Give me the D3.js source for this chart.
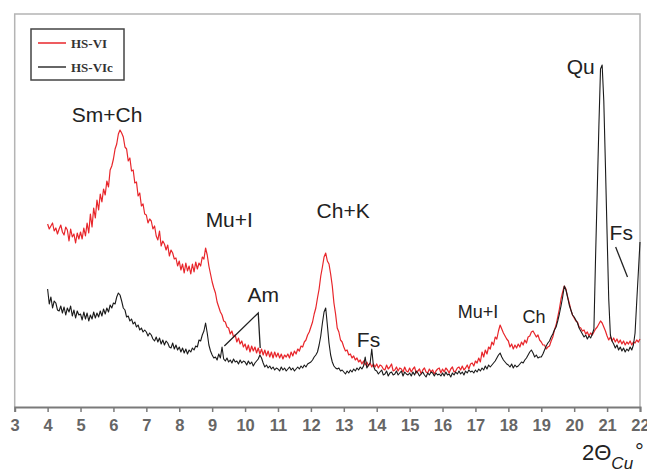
<!DOCTYPE html>
<html>
<head>
<meta charset="utf-8">
<script src="https://d3js.org/d3.v7.min.js"></script>
<style>
	body { margin: 0; background: #fff; }
	svg { display: block; }
	.peak-label { font-family: "Liberation Sans", Arial, sans-serif; fill: #222; }
	.tick text { font-family: "Liberation Sans Narrow", "Arial Narrow", "Liberation Sans", Arial, sans-serif; font-weight: bold; fill: #666; }
</style>
</head>
<body>
<div id="chartDiv"></div>
<script>
; (function () {

	var width = 647;
	var height = 470;
	var plot = { left: 14.7, top: 14, right: 640, bottom: 407 };

	// 2theta scan, 4 to 22 deg, 0.05 deg per point
	var thetaStart = 4;
	var thetaStep = 0.05;
	var xTicks = [3, 4, 5, 6, 7, 8, 9, 10, 11, 12, 13, 14, 15, 16, 17, 18, 19, 20, 21, 22];

	var seriesNames = ["HS-VI", "HS-VIc"];

	// HS-VI (red), one row per degree
	var hsVI = [
		183, 178, 181, 184, 176, 179, 173, 178, 182, 175, 172, 180, 177, 166, 178, 170, 173, 164, 174, 168,
		175, 168, 179, 171, 184, 174, 193, 180, 199, 189, 207, 197, 213, 205, 218, 212, 226, 220, 237, 241,
		248, 258, 263, 273, 277, 274, 270, 260, 258, 246, 249, 236, 237, 224, 225, 211, 214, 201, 203, 193,
		192, 184, 188, 186, 178, 181, 171, 167, 176, 161, 166, 163, 157, 162, 151, 157, 154, 148, 149, 141,
		146, 137, 143, 134, 144, 136, 141, 133, 143, 135, 145, 138, 144, 141, 150, 148, 159, 152, 141, 133,
		125, 119, 114, 105, 100, 95, 92, 86, 85, 80, 79, 73, 76, 70, 72, 65, 69, 63, 66, 60,
		63, 57, 62, 55, 61, 56, 60, 54, 59, 53, 58, 52, 57, 51, 56, 50, 55, 49, 55, 50,
		54, 49, 53, 48, 52, 50, 53, 49, 55, 51, 56, 53, 58, 56, 61, 60, 65, 67, 72, 75,
		80, 85, 93, 99, 109, 118, 131, 140, 150, 154, 146, 143, 133, 121, 104, 93, 79, 75, 67, 65,
		60, 56, 57, 52, 53, 49, 51, 47, 49, 45, 47, 43, 46, 42, 45, 41, 44, 40, 43, 40,
		43, 39, 42, 41, 38, 37, 42, 38, 40, 43, 36, 37, 40, 36, 39, 38, 35, 40, 36, 35,
		39, 35, 38, 40, 34, 36, 38, 33, 37, 39, 35, 34, 38, 35, 37, 33, 36, 38, 39, 34,
		38, 35, 39, 37, 34, 38, 40, 35, 36, 39, 40, 37, 41, 37, 39, 42, 38, 43, 44, 41,
		46, 44, 49, 45, 55, 50, 57, 53, 60, 58, 65, 62, 70, 68, 76, 82, 78, 74, 71, 68,
		66, 60, 63, 58, 62, 59, 63, 60, 65, 62, 67, 64, 70, 71, 75, 76, 73, 70, 72, 67,
		65, 62, 62, 58, 60, 61, 66, 70, 77, 82, 90, 98, 108, 115, 121, 118, 110, 104, 97, 92,
		89, 86, 85, 80, 79, 76, 77, 73, 75, 71, 74, 72, 75, 78, 80, 83, 86, 84, 80, 76,
		71, 67, 70, 66, 69, 65, 68, 64, 67, 63, 66, 62, 65, 63, 66, 62, 65, 64, 67, 65,
		68
	];

	// HS-VIc (black)
	var hsVIc = [
		118, 103, 110, 99, 106, 104, 97, 96, 101, 94, 100, 92, 99, 95, 101, 91, 97, 89, 96, 92,
		93, 87, 95, 88, 94, 86, 92, 88, 95, 89, 94, 90, 96, 91, 98, 93, 99, 95, 102, 99,
		104, 103, 110, 114, 112, 106, 99, 97, 90, 91, 86, 88, 83, 85, 80, 82, 77, 79, 75, 77,
		75, 71, 74, 72, 68, 66, 70, 65, 69, 63, 67, 62, 66, 64, 60, 59, 64, 58, 62, 57,
		60, 55, 59, 54, 58, 53, 57, 55, 59, 57, 61, 60, 67, 66, 72, 76, 84, 74, 62, 56,
		52, 49, 50, 47, 53, 49, 60, 48, 46, 49, 45, 47, 44, 48, 45, 46, 43, 47, 44, 46,
		45, 42, 46, 43, 45, 41, 44, 46, 48, 52, 49, 44, 40, 42, 39, 41, 38, 40, 37, 39,
		38, 36, 40, 37, 39, 36, 38, 40, 37, 39, 36, 38, 40, 38, 41, 39, 42, 40, 43, 44,
		45, 47, 50, 52, 55, 62, 71, 84, 95, 99, 82, 64, 52, 45, 41, 39, 38, 39, 36, 37,
		35, 33, 36, 34, 37, 35, 38, 36, 39, 37, 40, 38, 41, 50, 39, 42, 44, 58, 41, 37,
		36, 33, 35, 37, 32, 33, 36, 31, 34, 35, 32, 33, 36, 32, 34, 36, 31, 35, 33, 32,
		34, 31, 35, 32, 36, 34, 31, 33, 35, 32, 30, 34, 32, 35, 34, 31, 34, 32, 33, 31,
		34, 31, 35, 32, 33, 30, 34, 32, 35, 33, 36, 33, 35, 32, 36, 34, 37, 35, 36, 34,
		37, 35, 38, 36, 39, 37, 41, 38, 42, 40, 42, 44, 46, 49, 52, 54, 50, 47, 45, 43,
		42, 40, 43, 39, 42, 40, 41, 43, 45, 44, 47, 49, 52, 55, 57, 54, 50, 52, 49, 50,
		50, 53, 57, 61, 64, 66, 70, 73, 77, 80, 86, 93, 101, 110, 121, 117, 110, 102, 97, 92,
		90, 87, 84, 79, 76, 73, 70, 72, 68, 71, 69, 73, 78, 150, 215, 280, 338, 342, 306, 241,
		173, 108, 72, 66, 63, 59, 62, 57, 60, 56, 59, 55, 58, 56, 60, 57, 62, 74, 105, 135,
		165
	];

	// peak labels (2theta, intensity at baseline)
	var peakLabels = ["Sm+Ch", "Mu+I", "Ch+K", "Am", "Fs", "Mu+I", "Ch", "Qu", "Fs"];
	var peakLabelTheta = [5.81, 9.52, 12.98, 10.55, 13.75, 17.08, 18.78, 20.2, 21.43];
	var peakLabelIntensity = [285, 180, 189, 105, 60, 89, 84, 333, 167];

	var amLeader = [[9.37, 61], [10.40, 94], [10.46, 59]];
	var fsLeader = [[21.26, 160], [21.62, 130]];

	var chart;

	init();

	function init() {
		chart = d3.select("#chartDiv").append("svg")
			.attr("width", width)
			.attr("height", height);

		createScales();
		drawFrame();
		drawSeries();
		drawLabels();
		drawLegend();
	}

	function createScales() {
		chart.xScale = d3.scaleLinear()
			.domain([3, 22])
			.range([plot.left, plot.right]);

		chart.yScale = d3.scaleLinear()
			.domain([0, plot.bottom - plot.top])
			.range([plot.bottom, plot.top]);
	}

	function drawFrame() {
		chart.append("path")
			.attr("d", "M" + plot.left + "," + plot.bottom + "V" + plot.top + "H" + plot.right + "V" + plot.bottom)
			.attr("fill", "none")
			.attr("stroke", "#b4b4b4")
			.attr("stroke-width", 1.5);

		chart.xAxis = d3.axisBottom(chart.xScale)
			.tickValues(xTicks)
			.tickFormat(d3.format("d"))
			.tickSizeOuter(0)
			.tickSize(5)
			.tickPadding(7);

		var ax = chart.append("g")
			.attr("transform", "translate(0," + plot.bottom + ")")
			.call(chart.xAxis);

		ax.select(".domain").attr("stroke", "#7a7a7a").attr("stroke-width", 2);
		ax.selectAll(".tick line").attr("stroke", "#7a7a7a").attr("stroke-width", 1.5);
		ax.selectAll(".tick text").style("font-size", "16.5px");

		var title = chart.append("text")
			.attr("x", 582)
			.attr("y", 460)
			.style("font-family", "'Liberation Sans', Arial, sans-serif")
			.style("font-size", "22px")
			.attr("fill", "#222");
		title.append("tspan").text("2\u0398");
		title.append("tspan")
			.attr("dy", 9)
			.style("font-size", "17px")
			.style("font-style", "italic")
			.text("Cu");
		title.append("tspan")
			.attr("dy", -10)
			.attr("dx", 2)
			.style("font-size", "22px")
			.text("\u00b0");
	}

	function drawSeries() {
		var line = d3.line()
			.x(function (d, i) { return chart.xScale(thetaStart + i * thetaStep); })
			.y(function (d) { return chart.yScale(d); });

		chart.append("path")
			.datum(hsVI)
			.attr("d", line)
			.attr("fill", "none")
			.attr("stroke", "#e8262b")
			.attr("stroke-width", 1.2)
			.attr("stroke-linejoin", "round");

		chart.append("path")
			.datum(hsVIc)
			.attr("d", line)
			.attr("fill", "none")
			.attr("stroke", "#1a1a1a")
			.attr("stroke-width", 1.1)
			.attr("stroke-linejoin", "round");
	}

	function drawLabels() {
		var sizes = [21, 21, 21, 21, 21, 18, 18, 21, 21];

		chart.selectAll(".peak-label")
			.data(peakLabels)
			.enter().append("text")
			.attr("class", "peak-label")
			.attr("text-anchor", "middle")
			.attr("x", function (d, i) { return chart.xScale(peakLabelTheta[i]); })
			.attr("y", function (d, i) { return chart.yScale(peakLabelIntensity[i]); })
			.style("font-size", function (d, i) { return sizes[i] + "px"; })
			.text(function (d) { return d; });

		var leader = d3.line()
			.x(function (d) { return chart.xScale(d[0]); })
			.y(function (d) { return chart.yScale(d[1]); });

		[amLeader, fsLeader].forEach(function (pts) {
			chart.append("path")
				.attr("d", leader(pts))
				.attr("fill", "none")
				.attr("stroke", "#222")
				.attr("stroke-width", 1.3);
		});
	}

	function drawLegend() {
		var lg = chart.append("g").attr("transform", "translate(31,29)");
		var colors = ["#e8262b", "#333"];

		lg.append("rect")
			.attr("width", 93)
			.attr("height", 51)
			.attr("fill", "#fff")
			.attr("stroke", "#444")
			.attr("stroke-width", 1.5);

		var item = lg.selectAll(".legend-item")
			.data(seriesNames)
			.enter().append("g")
			.attr("transform", function (d, i) { return "translate(0," + (14 + i * 24) + ")"; });

		item.append("line")
			.attr("x1", 7).attr("x2", 35)
			.attr("stroke", function (d, i) { return colors[i]; })
			.attr("stroke-width", 1.5);

		item.append("text")
			.attr("x", 40)
			.attr("y", 5)
			.style("font-family", "'Liberation Serif', 'Times New Roman', serif")
			.style("font-weight", "bold")
			.style("font-size", "13px")
			.attr("fill", "#333")
			.text(function (d) { return d; });
	}

})();
</script>
</body>
</html>
